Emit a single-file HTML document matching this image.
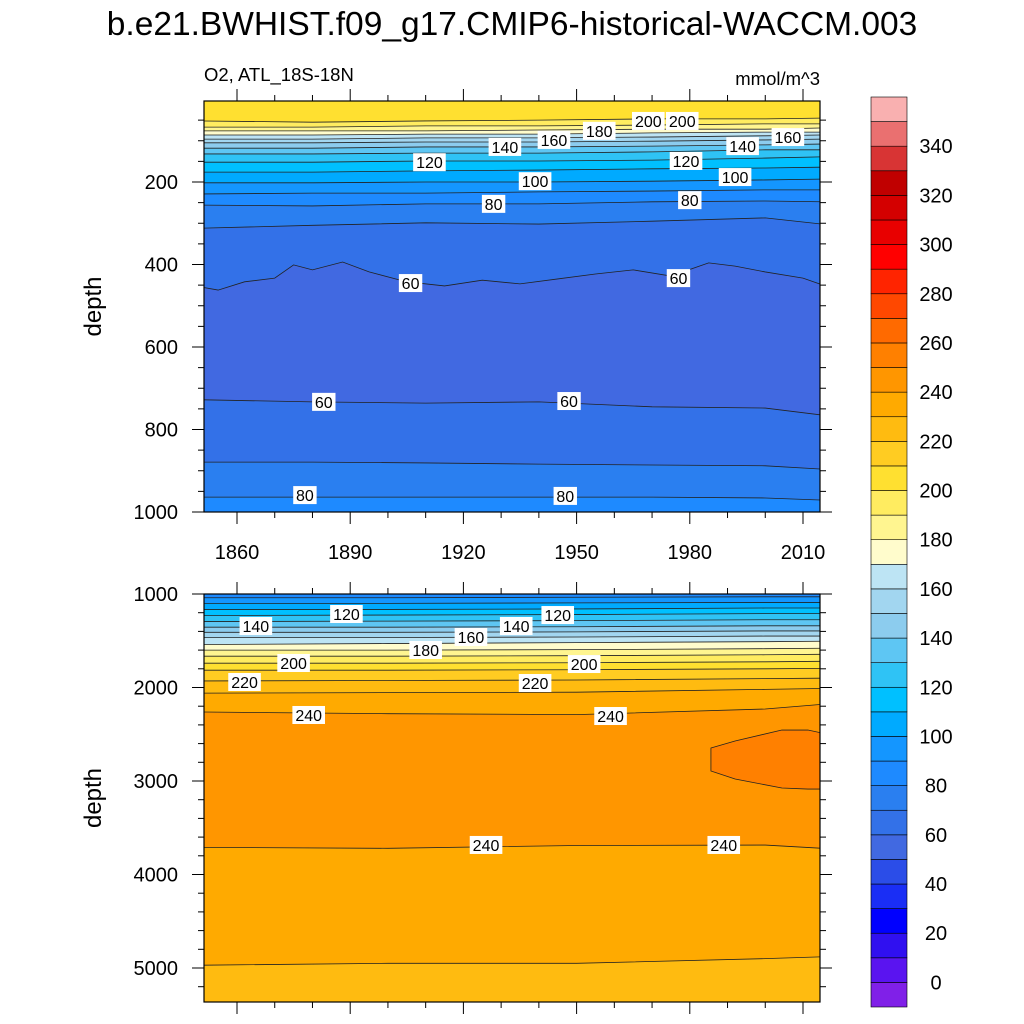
<!DOCTYPE html>
<html><head><meta charset="utf-8"><style>
body{margin:0;background:#fff;}
svg{display:block;font-family:"Liberation Sans",sans-serif;}
</style></head><body>
<svg id="chart" width="1024" height="1024" viewBox="0 0 1024 1024" xmlns="http://www.w3.org/2000/svg">
<text x="512" y="35" font-size="33.5" text-anchor="middle">b.e21.BWHIST.f09_g17.CMIP6-historical-WACCM.003</text>
<text x="204" y="81" font-size="18.5">O2, ATL_18S-18N</text>
<text x="820" y="85" font-size="18.5" text-anchor="end">mmol/m^3</text>
<g id="top"></g>
<g id="bot"></g>
<g id="cbar"></g>
</svg>
<script>
// ---- data ----
const bandLevels = [-10,0,10,20,30,40,50,60,70,80,90,100,110,120,130,140,150,160,170,180,190,200,210,220,230,240,250,260,270,280,290,300,310,320,330,340,350];
const bandColors = ["#8020E8","#5A14F0","#3010F0","#0000FF","#1A2EF5","#2B4DE8","#4169E1","#3371E8","#2A7FF0","#1E8AFF","#1496FF","#00AAFF","#00C0FF","#2FC3F5","#5EC6F3","#8CCCEE","#A2D6F0","#BDE4F4","#FFFCCC","#FFF590","#FFEC60","#FFE030","#FFCC22","#FFBB10","#FFAA00","#FF9600","#FF8000","#FF6A00","#FF4800","#FF2400","#FF0000","#E80000","#D40000","#C00000","#D83434","#EA7070","#F9B0B0"];
const cbarLabels = [0,20,40,60,80,100,120,140,160,180,200,220,240,260,280,300,320,340];

const topYears = [1851,1880,1910,1940,1970,2000,2015];
const topTopBand = 200;
const topLines = [200,190,180,170,160,150,140,130,120,110,100,90,80,70,60,60,70,80];
const topBelow = [190,180,170,160,150,140,130,120,110,100,90,80,70,60,50,60,70,80];
const topDepths = [
 [52,55,52,50,47,47,45],[67,67,64,64,62,59,59],[76,76,76,74,72,72,69],[86,86,84,84,81,79,79],
 [96,96,93,93,91,88,86],[105,105,103,103,101,98,96],[118,118,115,115,113,110,108],[132,132,130,130,127,122,122],
 [152,152,149,149,147,142,139],[176,176,173,171,168,166,164],[202,202,200,200,198,195,193],[229,227,227,224,222,219,219],
 [256,258,253,253,248,246,248],[312,305,299,302,295,287,302],null,
 [728,733,736,733,745,748,765],[879,879,881,884,886,888,896],[964,964,964,964,964,966,971]];
const wavyYears = [1851,1855,1862,1870,1875,1880,1888,1895,1905,1915,1925,1935,1945,1955,1965,1975,1985,1992,2000,2010,2015];
const wavyDepths = [455,462,442,433,401,413,394,418,442,452,438,447,435,423,413,428,396,404,418,433,449];
const topLabels = [[1911,152,'120'],[1931,115,'140'],[1944,98,'160'],[1956,76,'180'],[1969,52,'200'],[1978,52,'200'],[2006,91,'160'],[1994,113,'140'],[1979,149,'120'],[1939,198,'100'],[1992,188,'100'],[1928,253,'80'],[1980,244,'80'],[1906,445,'60'],[1977,433,'60'],[1883,733,'60'],[1948,731,'60'],[1878,959,'80'],[1947,961,'80']];

const botYears = [1851,1900,1950,2000,2015];
const botTopBand = 80;
const botLines = [90,100,110,120,130,140,150,160,170,180,190,200,210,220,230,240,240,230];
const botBelow = [90,100,110,120,130,140,150,160,170,180,190,200,210,220,230,240,230,220];
const botDepths = [
 [1040,1040,1035,1030,1030],[1100,1100,1095,1090,1090],[1165,1165,1160,1150,1150],[1230,1225,1220,1210,1210],
 [1295,1290,1285,1275,1275],[1355,1355,1350,1340,1340],[1410,1410,1405,1395,1395],[1465,1465,1460,1450,1450],
 [1540,1530,1520,1510,1505],[1600,1600,1595,1585,1580],[1665,1665,1660,1650,1645],[1740,1740,1735,1725,1720],
 [1815,1815,1810,1800,1795],[1930,1925,1920,1905,1900],[2060,2055,2050,2020,2010],[2262,2280,2290,2230,2180],
 [3710,3720,3690,3685,3720],[4970,4950,4950,4900,4880]];
const blobYears = [1985.6,1992,2004.4,2011.3,2015,2015,2011.3,2004.4,1992,1985.6];
const blobDepths = [2647,2572,2455,2455,2487,3086,3086,3075,2979,2893];
const blobBand = 250;
const botLabels = [[1865,1342,'140'],[1889,1214,'120'],[1910,1599,'180'],[1922,1460,'160'],[1934,1342,'140'],[1945,1225,'120'],[1875,1738,'200'],[1952,1749,'200'],[1862,1941,'220'],[1939,1952,'220'],[1879,2294,'240'],[1959,2305,'240'],[1926,3684,'240'],[1989,3684,'240']];

const xTicks = [1860,1890,1920,1950,1980,2010];
const topYTicks = [200,400,600,800,1000];
const botYTicks = [1000,2000,3000,4000,5000];

// ---- helpers ----
const NS="http://www.w3.org/2000/svg";
function mk(tag,attrs,parent){const e=document.createElementNS(NS,tag);for(const k in attrs)e.setAttribute(k,attrs[k]);parent.appendChild(e);return e;}
function col(v){return bandColors[bandLevels.indexOf(v)];}
const X0=204,X1=820;
const xs = yr => 237+(yr-1860)*3.7733;
const topY = d => 99.5+d*0.4125;
const botY = d => 594+(d-1000)*0.0935;

function panel(g,T,B,ys,topBand,lines,below,depths,lineYears,extra){
  const cid='clip'+T;
  const cp=mk('clipPath',{id:cid},g);mk('rect',{x:X0,y:T,width:X1-X0,height:B-T},cp);
  const inner=mk('g',{'clip-path':'url(#'+cid+')'},g);
  const bg=mk('rect',{x:X0,y:T,width:X1-X0,height:B-T,fill:col(topBand)},inner);
  
  
  const pts=[];
  lines.forEach((lv,i)=>{
    let yrs=lineYears, ds=depths[i];
    if(ds===null){yrs=wavyYears;ds=wavyDepths;}
    const p=yrs.map((y,j)=>[xs(y),ys(ds[j])]);
    p[0][0]=X0-2;p[p.length-1][0]=X1+2;
    pts.push(p);
    const poly=p.map(q=>q.join(',')).join(' ')+` ${X1+2},${B+2} ${X0-2},${B+2}`;
    const f=mk('polygon',{points:poly,fill:col(below[i])},inner);
    
    
  });
  if(extra) extra(inner);
  pts.forEach((p,i)=>{
    const l=mk('polyline',{points:p.map(q=>q.join(',')).join(' '),fill:'none',stroke:'#222','stroke-width':0.8},inner);
    
    
  });
}
function labels(g,arr,ys){
  arr.forEach(a=>{
    const x=xs(a[0]),y=ys(a[1]);const w=a[2].length*9.2+5;
    const r=mk('rect',{x:x-w/2,y:y-9,width:w,height:18,fill:'#fff'},g);
    
    
    const t=mk('text',{x:x,y:y+6,'font-size':16,'text-anchor':'middle'},g);t.textContent=a[2];
    
    
  });
}
function axes(g,T,B,ys,yt,minorStep,dMin,dMax,showXLabels){
  const fr=mk('rect',{x:X0,y:T,width:X1-X0,height:B-T,fill:'none',stroke:'#000','stroke-width':1.2},g);
  
  
  for(let yr=1860;yr<=2010;yr+=10){
    const maj=xTicks.includes(yr),L=maj?12:6,x=xs(yr);
    mk('line',{x1:x,x2:x,y1:T,y2:T-L,stroke:'#000','stroke-width':1},g);
    mk('line',{x1:x,x2:x,y1:B,y2:B+L,stroke:'#000','stroke-width':1},g);
    if(maj&&showXLabels){const t=mk('text',{x:x,y:B+47,'font-size':20,'text-anchor':'middle'},g);t.textContent=yr;
      
      }
  }
  for(let d=Math.ceil(dMin/minorStep)*minorStep;d<=dMax;d+=minorStep){
    const maj=yt.includes(d),L=maj?12:6,y=ys(d);
    mk('line',{x1:X0,x2:X0-L,y1:y,y2:y,stroke:'#000','stroke-width':1},g);
    mk('line',{x1:X1,x2:X1+L,y1:y,y2:y,stroke:'#000','stroke-width':1},g);
    if(maj){const t=mk('text',{x:178,y:y+7,'font-size':20,'text-anchor':'end'},g);t.textContent=d;
      
      }
  }
  const cy=(T+B)/2;
  const t=mk('text',{x:101,y:cy,'font-size':24,'text-anchor':'middle',transform:`rotate(-90 101 ${cy})`},g);t.textContent='depth';
  
  
}
const gt=document.getElementById('top'),gb=document.getElementById('bot');
panel(gt,101,512,topY,topTopBand,topLines,topBelow,topDepths,topYears,null);
labels(gt,topLabels,topY);
axes(gt,101,512,topY,topYTicks,50,4,1000,true);

panel(gb,594,1002,botY,botTopBand,botLines,botBelow,botDepths,botYears,function(inner){
  const p=blobYears.map((y,j)=>xs(y)+','+botY(blobDepths[j])).join(' ');
  const b=mk('polygon',{points:p,fill:col(blobBand),stroke:'#222','stroke-width':0.8},inner);
  
  
});
labels(gb,botLabels,botY);
axes(gb,594,1002,botY,botYTicks,200,1000,5360,false);

// colorbar
const gc=document.getElementById('cbar');
const CT=97,CB=1007,n=bandLevels.length,h=(CB-CT)/n;
for(let i=0;i<n;i++){
  const y=CB-(i+1)*h;
  const r=mk('rect',{x:871,y:y,width:36,height:h,fill:bandColors[i],stroke:'#000','stroke-width':0.6},gc);
  
  
}
cbarLabels.forEach(v=>{
  const i=bandLevels.indexOf(v);const y=CB-i*h;
  const t=mk('text',{x:936,y:y+7,'font-size':20,'text-anchor':'middle'},gc);t.textContent=v;
  
  
});
</script>
</body></html>
